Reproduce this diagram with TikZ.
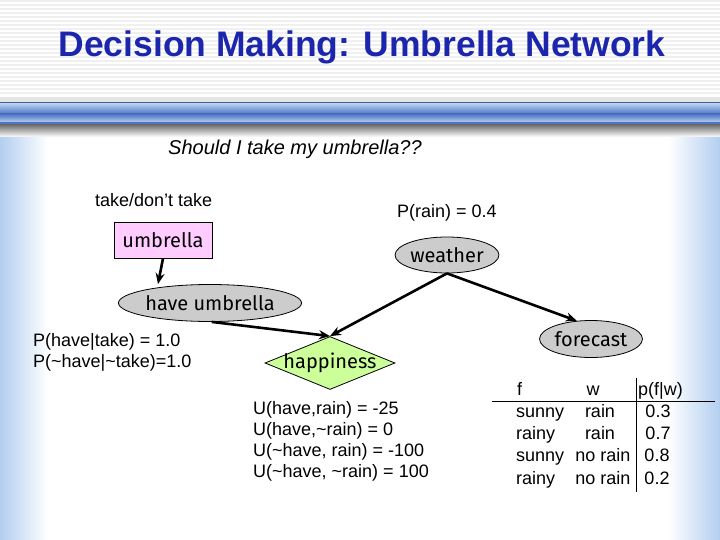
\documentclass[tikz,border=0pt]{standalone}
\usepackage{fontspec}
\setmainfont{Liberation Sans}
\newfontfamily\nodefont{Fira Sans}
\usetikzlibrary{shapes.geometric,arrows.meta}
\definecolor{titleblue}{RGB}{28,38,172}
\definecolor{barlight}{RGB}{178,204,238}
\definecolor{bardark}{RGB}{78,116,196}
\definecolor{barline}{RGB}{80,90,150}
\definecolor{sideblue}{RGB}{178,206,240}
\definecolor{pinkfill}{RGB}{255,204,255}
\definecolor{greenfill}{RGB}{204,255,153}
\definecolor{grayfill}{RGB}{204,204,204}
\tikzset{
  txt/.style={font=\fontsize{18}{21}\selectfont, inner sep=0pt},
  cell/.style={txt, text height=13pt, text depth=4pt},
  lbl/.style={font=\nodefont\fontsize{20}{23}\selectfont, inner sep=0pt, draw=black, line width=0.8pt},
  ell/.style={lbl, ellipse, fill=grayfill},
  conn/.style={line width=2.6pt, -{Stealth[length=11pt,width=9pt]}},
}
\begin{document}
\begin{tikzpicture}[x=1pt,y=-1pt]
\useasboundingbox (0,0) rectangle (720,540);
\fill[white] (0,0) rectangle (720,540);
% top stripes
\foreach \yy in {0,4,...,92} {\fill[black!6] (0,\yy) rectangle (720,\yy+2);}
% side gradients
\shade[left color=sideblue, right color=white] (0,128) rectangle (48,540);
\shade[left color=white, right color=sideblue] (668,128) rectangle (720,540);
% bar
\fill[black!10] (0,97) rectangle (720,102.5);
\fill[barline] (0,102.5) rectangle (720,104);
\shade[top color=barlight, bottom color=bardark] (0,104) rectangle (720,114);
\shade[top color=bardark, bottom color=barlight] (0,114) rectangle (720,122);
\fill[bardark] (0,122) rectangle (720,125);
\shade[top color=black!55, bottom color=white] (0,125) rectangle (720,137);
% title
\node[font=\bfseries\fontsize{35.5}{40}\selectfont, text=titleblue, inner sep=0pt] (title) at (362,47) {Decision Making: Umbrella Network};
\node[txt, font=\itshape\fontsize{20}{24}\selectfont, anchor=west] (question) at (168,149) {Should I take my umbrella??};
% nodes
\node[txt, anchor=west] (takelbl) at (95,200) {take/don’t take};
\node[lbl, fill=pinkfill, minimum width=98pt, minimum height=36pt] (umbrella) at (163,240) {umbrella};
\node[txt, anchor=west] (prain) at (397,213) {P(rain) = 0.4};
\node[ell, minimum width=102pt, minimum height=36pt] (weather) at (447,255) {weather};
\node[ell, minimum width=148pt, minimum height=37pt] (haveumb) at (210,303) {have umbrella};
\node[lbl, diamond, fill=greenfill, minimum width=130pt, minimum height=53pt, inner sep=0pt,
  label={[font=\nodefont\fontsize{20}{23}\selectfont, inner sep=0pt]center:happiness}] (happy) at (330,363) {};
\node[ell, minimum width=100pt, minimum height=37pt] (forecast) at (591,339) {forecast};
% text blocks
\node[txt, anchor=west, align=left] (phave) at (33,352) {P(have|take) = 1.0\\P(\textasciitilde have|\textasciitilde take)=1.0};
\node[txt, anchor=north west, align=left, font=\fontsize{18}{21.2}\selectfont] (utils) at (253,401) {U(have,rain) = -25\\U(have,\textasciitilde rain) = 0\\U(\textasciitilde have, rain) = -100\\U(\textasciitilde have, \textasciitilde rain) = 100};
% table
\node[cell, anchor=west] (hf) at (517,391) {f};
\node[cell] (hw) at (593,391) {w};
\node[cell, anchor=west] (hp) at (638,391) {p(f|w)};
\node[cell, anchor=west] (r1a) at (516,413) {sunny};
\node[cell] (r1b) at (600,413) {rain};
\node[cell] (r1c) at (658,413) {0.3};
\node[cell, anchor=west] (r2a) at (516,435) {rainy};
\node[cell] (r2b) at (600,435) {rain};
\node[cell] (r2c) at (658,435) {0.7};
\node[cell, anchor=west] (r3a) at (516,457) {sunny};
\node[cell] (r3b) at (603,457) {no rain};
\node[cell] (r3c) at (657,457) {0.8};
\node[cell, anchor=west] (r4a) at (516,480) {rainy};
\node[cell] (r4b) at (603,480) {no rain};
\node[cell] (r4c) at (657,480) {0.2};
\coordinate (hl1) at (492,401);
\coordinate (hl2) at (715,401);
\coordinate (vl1) at (636,378);
\coordinate (vl2) at (636,492);
\draw[line width=0.8pt] (hl1) -- (hl2);
\draw[line width=0.8pt] (vl1) -- (vl2);
% connectors
\draw[conn] (umbrella.south) -- (haveumb.north -| 158,0);
\draw[conn] (haveumb.-85) -- (happy.north);
\draw[conn] (weather.south) -- (happy.north);
\draw[conn] (weather.south) -- (forecast.128);
\end{tikzpicture}
\end{document}
